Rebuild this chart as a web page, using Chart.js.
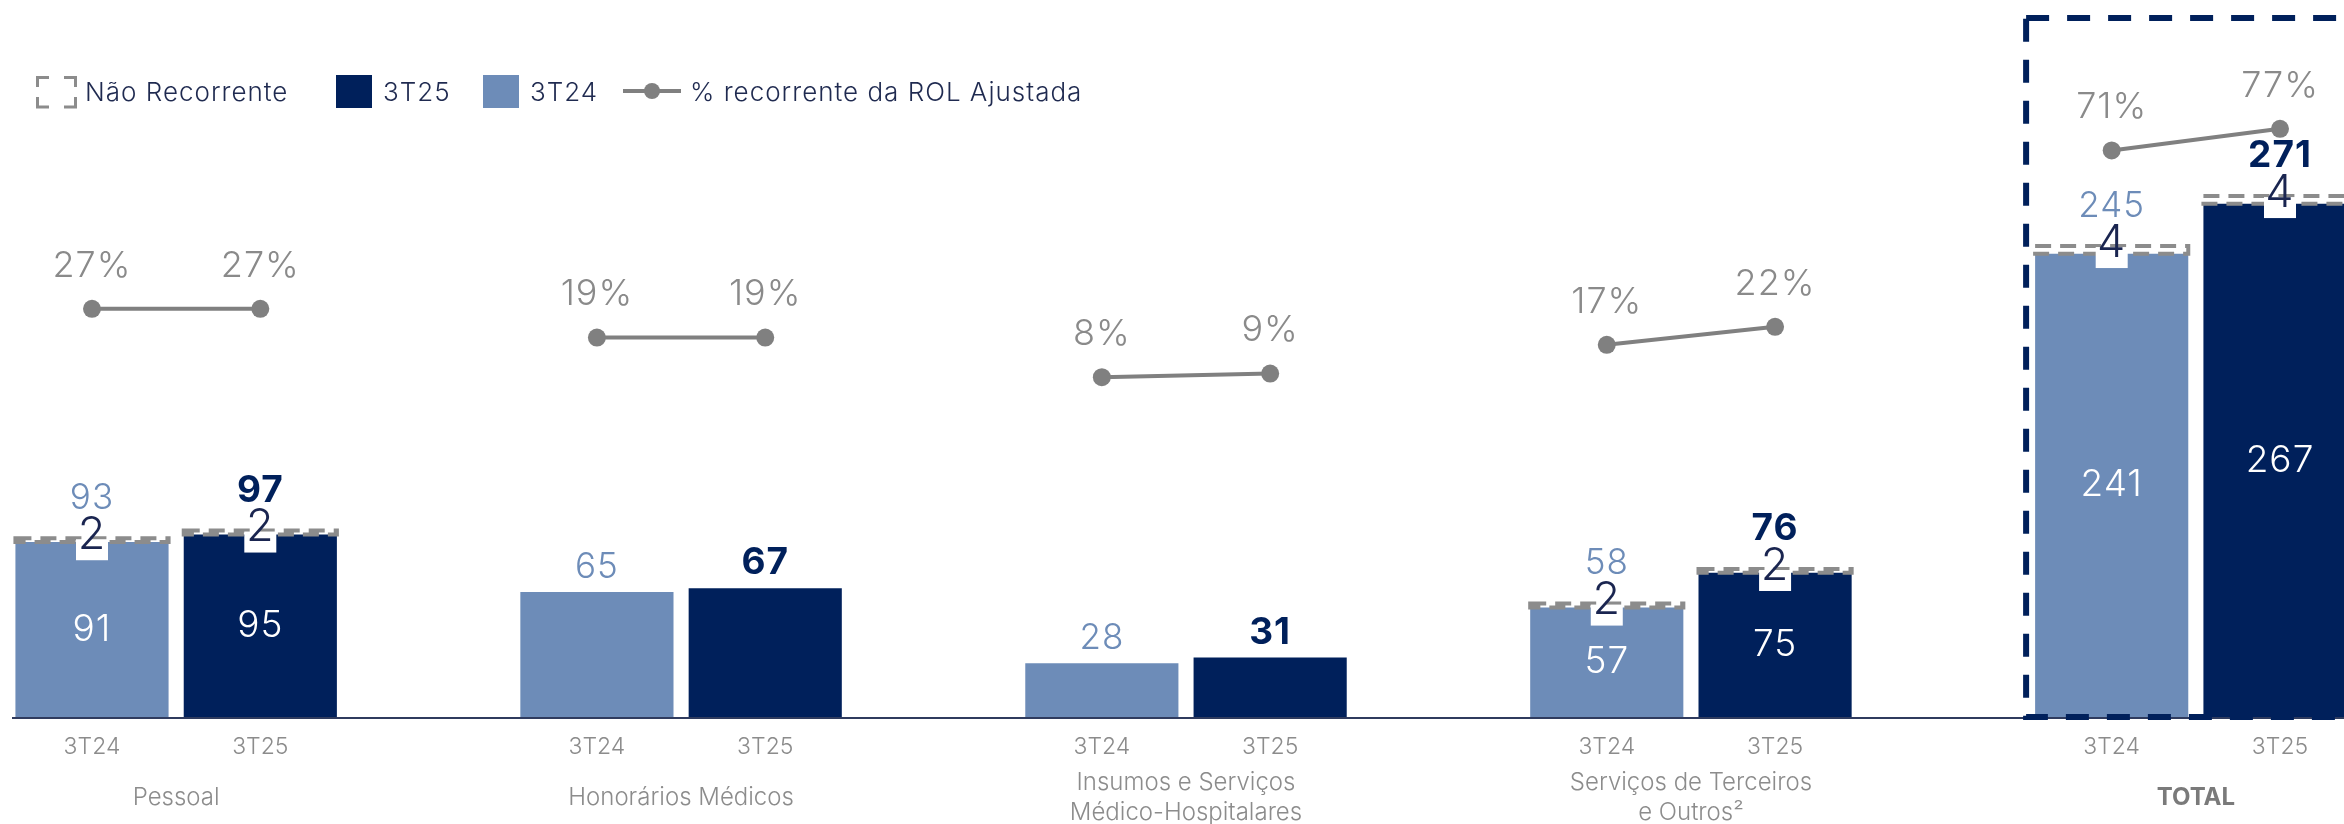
<!DOCTYPE html>
<html>
<head>
<meta charset="utf-8">
<script src="https://cdn.jsdelivr.net/npm/chart.js@4.4.1/dist/chart.umd.min.js"></script>
<style>
  body { margin: 0; background: #fff; }
  #wrap { position: relative; width: 2344px; height: 824px; overflow: hidden; font-family: Inter, sans-serif; }
  .leg { position: absolute; top: 74px; height: 36px; line-height: 36px; font-size: 26px; font-weight: 300; letter-spacing: 1px; color: #1f2a50; white-space: nowrap; }
  .sw { position: absolute; top: 75px; width: 36px; height: 33px; }
</style>
</head>
<body>
<div id="wrap">
  <canvas id="grafico" width="2344" height="824"></canvas>
  <svg style="position:absolute;left:36px;top:76px" width="42" height="33">
    <path d="M1.5,11 V1.5 H13 M28,1.5 H39.5 V11 M39.5,21 V31 H28 M13,31 H1.5 V21" fill="none" stroke="#8c8c8c" stroke-width="3"/>
  </svg>
  <div class="leg" style="left:85px">Não Recorrente</div>
  <div class="sw" style="left:336px;background:#00205b"></div>
  <div class="leg" style="left:383px">3T25</div>
  <div class="sw" style="left:483px;background:#6d8cb8"></div>
  <div class="leg" style="left:530px">3T24</div>
  <svg style="position:absolute;left:622px;top:80px" width="60" height="22">
    <line x1="1" y1="11" x2="59" y2="11" stroke="#808080" stroke-width="4"/>
    <circle cx="30" cy="11" r="8" fill="#808080"/>
  </svg>
  <div class="leg" style="left:690px">% recorrente da ROL Ajustada</div>
</div>
<script>
// dados (R$ milhões)
const grupos = ['Pessoal', 'Honorários Médicos', ['Insumos e Serviços', 'Médico-Hospitalares'], ['Serviços de Terceiros', 'e Outros²'], 'TOTAL'];
const periodos = ['3T24', '3T25'];
const rec3T24 = [91, 65, 28, 57, 241];
const rec3T25 = [95, 67, 31, 75, 267];
const naoRec3T24 = [2, null, null, 2, 4];
const naoRec3T25 = [2, null, null, 2, 4];
const total3T24 = [93, 65, 28, 58, 245];
const total3T25 = [97, 67, 31, 76, 271];
const pct3T24 = [27, 19, 8, 17, 71];
const pct3T25 = [27, 19, 9, 22, 77];

const FONT = 'Inter';
const NAVY = '#00205b';
const LIGHT = '#6d8cb8';
const GRAY = '#808080';

// uma barra por categoria, com uma categoria vazia entre os grupos
const labels = [], recorrente = [], naoRecorrente = [], totais = [], percentuais = [], cores = [];
grupos.forEach((g, i) => {
  if (i > 0) {
    labels.push(''); recorrente.push(null); naoRecorrente.push(null);
    totais.push(null); percentuais.push(null); cores.push(LIGHT);
  }
  labels.push(periodos[0]); recorrente.push(rec3T24[i]); naoRecorrente.push(naoRec3T24[i]);
  totais.push(total3T24[i]); percentuais.push(pct3T24[i]); cores.push(LIGHT);
  labels.push(periodos[1]); recorrente.push(rec3T25[i]); naoRecorrente.push(naoRec3T25[i]);
  totais.push(total3T25[i]); percentuais.push(pct3T25[i]); cores.push(NAVY);
});

const eixoBase = {
  id: 'eixoBase',
  beforeDatasetsDraw(chart) {
    const { ctx, scales: { y } } = chart;
    const y0 = y.getPixelForValue(0);
    ctx.save();
    ctx.strokeStyle = '#2f3b5e';
    ctx.lineWidth = 2;
    ctx.beginPath();
    ctx.moveTo(12, y0 + 1);
    ctx.lineTo(chart.width, y0 + 1);
    ctx.stroke();
    ctx.restore();
  }
};

const rotulos = {
  id: 'rotulos',
  afterDatasetsDraw(chart) {
    const ctx = chart.ctx;
    const pctMeta = chart.getDatasetMeta(0);
    const recMeta = chart.getDatasetMeta(1);
    const naoMeta = chart.getDatasetMeta(2);
    const y0 = chart.scales.y.getPixelForValue(0);
    ctx.save();
    ctx.textAlign = 'center';
    ctx.textBaseline = 'middle';
    ctx.letterSpacing = '1px';

    labels.forEach((lab, i) => {
      if (recorrente[i] == null) return;
      const rec = recMeta.data[i];
      const novo = lab === periodos[1];
      let topo = rec.y, folga = 25;

      if (naoRecorrente[i] != null) {
        const nr = naoMeta.data[i];
        ctx.setLineDash([16, 9]);
        ctx.strokeStyle = '#8c8c8c';
        ctx.lineWidth = 4;
        ctx.strokeRect(nr.x - nr.width / 2, nr.y, nr.width, nr.base - nr.y);
        ctx.setLineDash([]);

        ctx.fillStyle = '#fff';
        ctx.font = `300 37px ${FONT}`;
        ctx.fillText(recorrente[i], rec.x, (rec.y + rec.base) / 2);

        ctx.fillRect(nr.x - 16, nr.y + 1, 32, 21);
        ctx.fillStyle = '#1a2550';
        ctx.font = `300 45px ${FONT}`;
        ctx.fillText(naoRecorrente[i], nr.x, nr.y - 3);
        topo = nr.y;
        folga = 40;
      }

      ctx.fillStyle = novo ? NAVY : LIGHT;
      ctx.font = novo ? `700 37px ${FONT}` : `300 35px ${FONT}`;
      ctx.fillText(totais[i], rec.x, topo - folga);

      const p = pctMeta.data[i];
      ctx.fillStyle = '#8a8a8a';
      ctx.font = `300 36px ${FONT}`;
      ctx.fillText(percentuais[i] + '%', p.x, p.y - 43);
    });

    // moldura tracejada do TOTAL
    const t = recMeta.data[labels.length - 2];
    const left = t.x - t.width / 2 - 9;
    const top = chart.chartArea.top + 18;
    ctx.setLineDash([23, 18]);
    ctx.lineWidth = 6;
    ctx.strokeStyle = NAVY;
    ctx.strokeRect(left, top, chart.width - left + 20, y0 - top);
    ctx.restore();
  }
};

new Chart(document.getElementById('grafico'), {
  type: 'bar',
  data: {
    labels: labels,
    datasets: [
      {
        type: 'line',
        label: '% recorrente da ROL Ajustada',
        data: percentuais,
        yAxisID: 'yPct',
        borderColor: GRAY,
        borderWidth: 4,
        pointRadius: 9,
        pointBackgroundColor: GRAY,
        pointBorderWidth: 0,
        spanGaps: false,
        clip: false,
        order: 0
      },
      {
        label: 'Recorrente',
        data: recorrente,
        backgroundColor: cores,
        stack: 's',
        order: 1,
        clip: false,
        barPercentage: 0.91,
        categoryPercentage: 1
      },
      {
        label: 'Não Recorrente',
        data: naoRecorrente,
        backgroundColor: 'rgba(0,0,0,0)',
        stack: 's',
        order: 2,
        clip: false,
        barPercentage: 0.91,
        categoryPercentage: 1
      }
    ]
  },
  options: {
    responsive: false,
    animation: false,
    layout: { autoPadding: false, padding: { left: 92, right: 64, top: 0, bottom: 0 } },
    plugins: { legend: { display: false }, tooltip: { enabled: false } },
    scales: {
      x: {
        stacked: true,
        offset: false,
        weight: 0,
        grid: { display: false, drawTicks: false },
        border: { display: false },
        ticks: {
          color: '#8c8c8c',
          font: { family: FONT, size: 23, weight: '300' },
          padding: 16,
          maxRotation: 0,
          autoSkip: false
        },
        afterFit(s) { s.height = 48; }
      },
      x2: {
        type: 'linear',
        position: 'bottom',
        weight: 1,
        min: 0,
        max: labels.length - 1,
        bounds: 'data',
        offset: false,
        grid: { display: false, drawTicks: false },
        border: { display: false },
        afterBuildTicks(s) { s.ticks = grupos.map((g, i) => ({ value: 3 * i + 0.5 })); },
        ticks: {
          callback: (v, i) => grupos[i],
          autoSkip: false,
          maxRotation: 0,
          crossAlign: 'center',
          padding: 18,
          color: c => c.index === 4 ? '#7a7a7a' : '#8c8c8c',
          font: c => ({ family: FONT, size: 24, weight: c.index === 4 ? '700' : '300', lineHeight: 1.25 })
        },
        afterFit(s) { s.height = 59; }
      },
      y: { stacked: true, display: false, min: 0, max: 373 },
      yPct: { display: false, min: -86.4, max: 112.8 }
    }
  },
  plugins: [eixoBase, rotulos]
});
</script>
</body>
</html>
